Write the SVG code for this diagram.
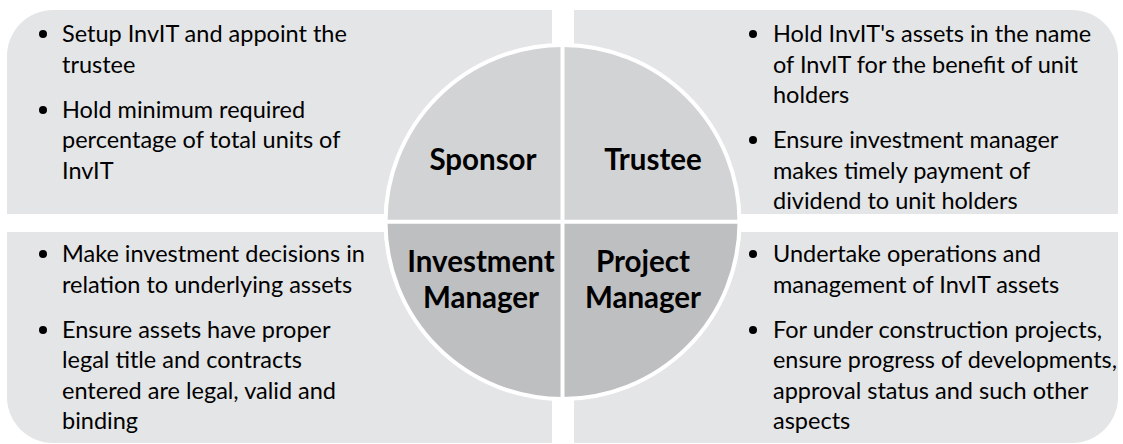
<svg xmlns="http://www.w3.org/2000/svg" width="1123" height="444" viewBox="0 0 1123 444">
<style>
.panel{fill:#E4E5E6}
.qt{fill:#D2D3D5}
.qb{fill:#BEBFC1}
.txt{font-family:Lato,"Liberation Sans",sans-serif;font-size:23.5px;fill:#000}
.lbl{font-family:Lato,"Liberation Sans",sans-serif;font-size:29.5px;font-weight:bold;fill:#000;text-anchor:middle}
.dot{fill:#000}
.div{stroke:#fff;stroke-width:4;fill:none}
</style>
<rect width="1123" height="444" fill="#fff"/>
<g id="panel-sponsor">
<path class="panel" d="M7,214 V56 A46,46 0 0 1 53,10 H552 V214 Z"/>
<circle class="dot" cx="43" cy="34" r="4"/>
<text class="txt" x="62" y="42">Setup InvIT and appoint the</text>
<text class="txt" x="62" y="73">trustee</text>
<circle class="dot" cx="43" cy="110" r="4"/>
<text class="txt" x="62" y="118">Hold minimum required</text>
<text class="txt" x="62" y="148">percentage of total units of</text>
<text class="txt" x="62" y="179">InvIT</text>
</g>
<g id="panel-trustee">
<path class="panel" d="M574,10 H1072 A46,46 0 0 1 1118,56 V214 H574 Z"/>
<circle class="dot" cx="753" cy="34" r="4"/>
<text class="txt" x="773" y="42">Hold InvIT's assets in the name</text>
<text class="txt" x="773" y="73">of InvIT for the benefit of unit</text>
<text class="txt" x="773" y="103">holders</text>
<circle class="dot" cx="753" cy="140" r="4"/>
<text class="txt" x="773" y="148">Ensure investment manager</text>
<text class="txt" x="773" y="179">makes timely payment of</text>
<text class="txt" x="773" y="209">dividend to unit holders</text>
</g>
<g id="panel-investment-manager">
<path class="panel" d="M7,232 H552 V443 H53 A46,46 0 0 1 7,397 Z"/>
<circle class="dot" cx="43" cy="254" r="4"/>
<text class="txt" x="62" y="262">Make investment decisions in</text>
<text class="txt" x="62" y="293">relation to underlying assets</text>
<circle class="dot" cx="43" cy="330" r="4"/>
<text class="txt" x="62" y="338">Ensure assets have proper</text>
<text class="txt" x="62" y="368">legal title and contracts</text>
<text class="txt" x="62" y="399">entered are legal, valid and</text>
<text class="txt" x="62" y="429">binding</text>
</g>
<g id="panel-project-manager">
<path class="panel" d="M574,232 H1118 V397 A46,46 0 0 1 1072,443 H574 Z"/>
<circle class="dot" cx="753" cy="254" r="4"/>
<text class="txt" x="773" y="262">Undertake operations and</text>
<text class="txt" x="773" y="293">management of InvIT assets</text>
<circle class="dot" cx="753" cy="330" r="4"/>
<text class="txt" x="773" y="338">For under construction projects,</text>
<text class="txt" x="773" y="368" textLength="344" lengthAdjust="spacingAndGlyphs">ensure progress of developments,</text>
<text class="txt" x="773" y="399">approval status and such other</text>
<text class="txt" x="773" y="429">aspects</text>
</g>
<g id="circle">
<circle cx="562.5" cy="222" r="178.5" fill="#fff"/>
<path id="q-sponsor" class="qt" d="M562.5,222 H385.5 A177,177 0 0 1 562.5,45 Z"/>
<path id="q-trustee" class="qt" d="M562.5,222 V45 A177,177 0 0 1 739.5,222 Z"/>
<path id="q-pm" class="qb" d="M562.5,222 H739.5 A177,177 0 0 1 562.5,399 Z"/>
<path id="q-im" class="qb" d="M562.5,222 V399 A177,177 0 0 1 385.5,222 Z"/>
<circle class="div" cx="562.5" cy="222" r="177"/>
<line class="div" x1="562.5" y1="43" x2="562.5" y2="401"/>
<line class="div" x1="383" y1="221.7" x2="742" y2="221.7"/>
</g>
<g id="labels">
<text class="lbl" x="483" y="170">Sponsor</text>
<text class="lbl" x="653" y="170">Trustee</text>
<text class="lbl" x="481" y="272">Investment</text>
<text class="lbl" x="481" y="308">Manager</text>
<text class="lbl" x="643" y="272">Project</text>
<text class="lbl" x="643" y="308">Manager</text>
</g>
</svg>
